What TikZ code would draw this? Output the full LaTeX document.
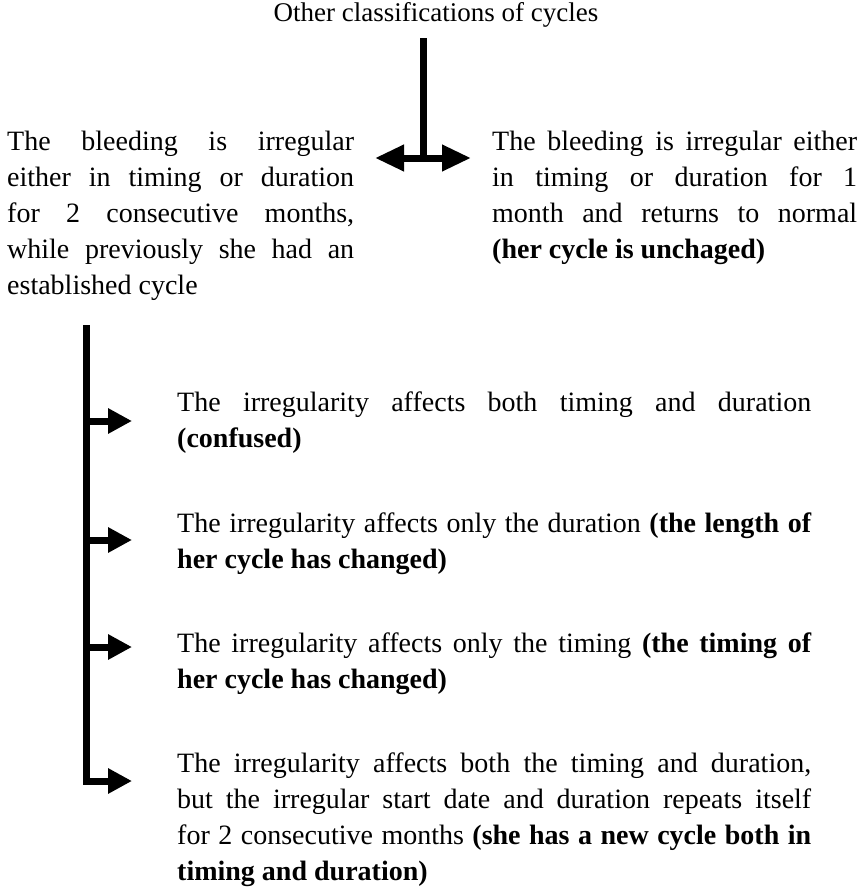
\documentclass[tikz,border=0pt]{standalone}
\usepackage{fontspec}
\setmainfont{Liberation Serif}
\usetikzlibrary{arrows.meta,calc}

\begin{document}
\begin{tikzpicture}[x=1pt,y=-1pt,
    >={Triangle[length=24pt,width=24pt]},
    para/.style={anchor=base west, inner sep=0pt, align=justify,
        font=\fontsize{28}{36}\selectfont},
    stem/.style={line width=7pt},
    branch/.style={line width=7pt, ->}]
    \useasboundingbox (0,0) rectangle (864,888);

    % the heading and the two cases below it
    \node[anchor=base, inner sep=0pt, font=\fontsize{27}{34}\selectfont] (title) at (436,22) {Other classifications of cycles};
    \node[para, text width=347pt] (twomonths) at (7,150) {The bleeding is irregular\linebreak either in timing or duration\linebreak for 2 consecutive months,\linebreak while previously she had an\linebreak established cycle};
    \node[para, text width=365pt] (onemonth) at (492,150) {The bleeding is irregular either\linebreak in timing or duration for 1\linebreak month and returns to normal\linebreak \textbf{(her cycle is unchaged)}};

    % the split (coordinates only, the arrows end in the gap)
    \coordinate (split) at (423,158);
    \coordinate (ltip) at (375,158);
    \coordinate (rtip) at (471,158);
    \draw[stem, shorten <=10pt] (title.south -| split) -- (split);
    \draw[stem, {Triangle[length=29pt,width=25pt]}-{Triangle[length=29pt,width=25pt]}] (ltip) -- (rtip);

    % the four kinds of irregularity
    \node[para, text width=634pt] (both) at (177,411) {The irregularity affects both timing and duration\linebreak \textbf{(confused)}};
    \node[para, text width=634pt] (length) at (177,532) {The irregularity affects only the duration \textbf{(the length of\linebreak her cycle has changed)}};
    \node[para, text width=634pt] (timing) at (177,652) {The irregularity affects only the timing \textbf{(the timing of\linebreak her cycle has changed)}};
    \node[para, text width=634pt] (newcycle) at (177,772) {The irregularity affects both the timing and duration,\linebreak but the irregular start date and duration repeats itself\linebreak for 2 consecutive months \textbf{(she has a new cycle both in\linebreak timing and duration)}};

    % the bracket and its arrows
    \coordinate (bartop) at (86,325);
    \coordinate (t1) at (132,421);
    \coordinate (t2) at (132,540);
    \coordinate (t3) at (132,647);
    \coordinate (t4) at (132,781);
    \draw[branch] (bartop) |- (t4);
    \draw[branch] (bartop |- t1) -- (t1);
    \draw[branch] (bartop |- t2) -- (t2);
    \draw[branch] (bartop |- t3) -- (t3);

\end{tikzpicture}
\end{document}
